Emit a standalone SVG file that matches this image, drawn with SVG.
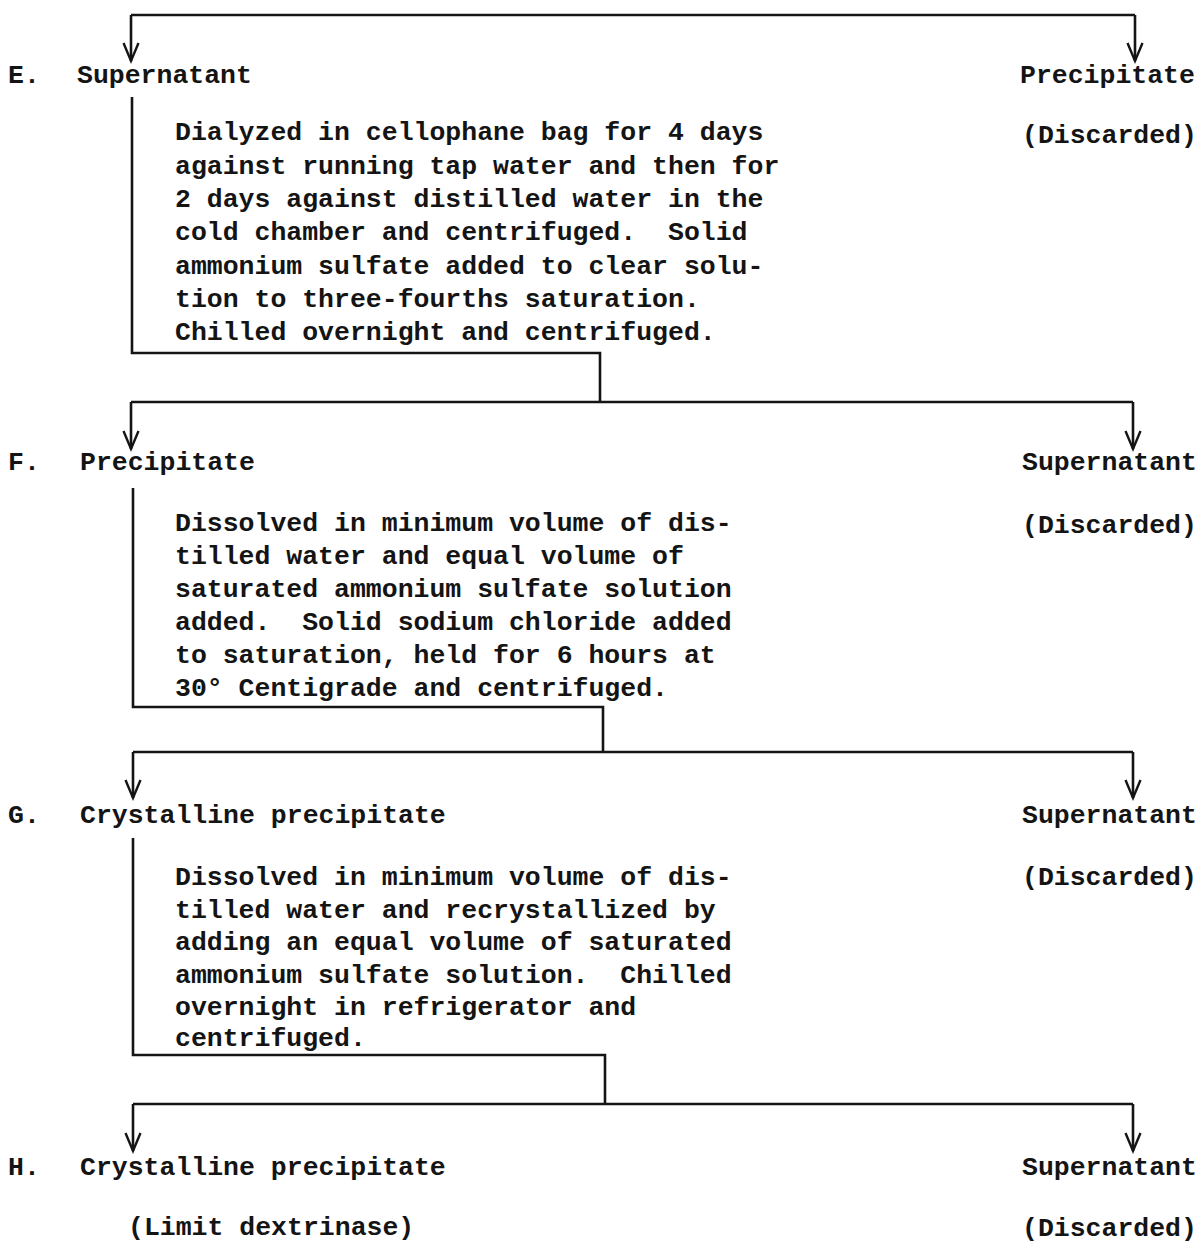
<svg xmlns="http://www.w3.org/2000/svg" width="1203" height="1243" viewBox="0 0 1203 1243">
<defs>
<style>
text{font-family:"Liberation Mono","Courier New",monospace;font-weight:bold;font-size:26.5px;fill:#141414;white-space:pre}
.c{fill:none;stroke:#141414;stroke-width:2.6;stroke-linejoin:miter}
</style>
<marker id="ah" markerUnits="userSpaceOnUse" markerWidth="20" markerHeight="20" refX="0" refY="0" orient="auto" overflow="visible">
<path d="M-18,-7.5 L0,0 L-18,7.5" fill="none" stroke="#141414" stroke-width="2.4"/>
</marker>
</defs>
<rect width="1203" height="1243" fill="#ffffff"/>
<g id="connectors">
<path class="c" d="M131,15 H1135" />
<path class="c" d="M131,15 V61" marker-end="url(#ah)"/>
<path class="c" d="M1135,15 V61" marker-end="url(#ah)"/>
<path class="c" d="M132,97 V353 H600 V402"/>
<path class="c" d="M131,402 H1133"/>
<path class="c" d="M131,402 V449" marker-end="url(#ah)"/>
<path class="c" d="M1133,402 V449" marker-end="url(#ah)"/>
<path class="c" d="M133,488 V707 H603 V752"/>
<path class="c" d="M133,752 H1133"/>
<path class="c" d="M133,752 V798" marker-end="url(#ah)"/>
<path class="c" d="M1133,752 V798" marker-end="url(#ah)"/>
<path class="c" d="M133,838 V1055 H605 V1104"/>
<path class="c" d="M133,1104 H1133"/>
<path class="c" d="M133,1104 V1151" marker-end="url(#ah)"/>
<path class="c" d="M1133,1104 V1151" marker-end="url(#ah)"/>
</g>
<g id="node-E">
<text x="8" y="83">E.</text>
<text x="77" y="83">Supernatant</text>
</g>
<g id="node-E-precipitate">
<text x="1020" y="83">Precipitate</text>
<text x="1022" y="143">(Discarded)</text>
</g>
<g id="step-E">
<text x="175" y="140">Dialyzed in cellophane bag for 4 days</text>
<text x="175" y="173.5">against running tap water and then for</text>
<text x="175" y="207">2 days against distilled water in the</text>
<text x="175" y="240" xml:space="preserve">cold chamber and centrifuged.  Solid</text>
<text x="175" y="273.5">ammonium sulfate added to clear solu-</text>
<text x="175" y="307">tion to three-fourths saturation.</text>
<text x="175" y="340">Chilled overnight and centrifuged.</text>
</g>
<g id="node-F">
<text x="8" y="470">F.</text>
<text x="80" y="470">Precipitate</text>
</g>
<g id="node-F-supernatant">
<text x="1022" y="470">Supernatant</text>
<text x="1022" y="533">(Discarded)</text>
</g>
<g id="step-F">
<text x="175" y="531">Dissolved in minimum volume of dis-</text>
<text x="175" y="564">tilled water and equal volume of</text>
<text x="175" y="597">saturated ammonium sulfate solution</text>
<text x="175" y="630" xml:space="preserve">added.  Solid sodium chloride added</text>
<text x="175" y="663">to saturation, held for 6 hours at</text>
<text x="175" y="696">30° Centigrade and centrifuged.</text>
</g>
<g id="node-G">
<text x="8" y="823">G.</text>
<text x="80" y="823">Crystalline precipitate</text>
</g>
<g id="node-G-supernatant">
<text x="1022" y="823">Supernatant</text>
<text x="1022" y="885">(Discarded)</text>
</g>
<g id="step-G">
<text x="175" y="885">Dissolved in minimum volume of dis-</text>
<text x="175" y="917.5">tilled water and recrystallized by</text>
<text x="175" y="950">adding an equal volume of saturated</text>
<text x="175" y="982.5" xml:space="preserve">ammonium sulfate solution.  Chilled</text>
<text x="175" y="1015">overnight in refrigerator and</text>
<text x="175" y="1046">centrifuged.</text>
</g>
<g id="node-H">
<text x="8" y="1175">H.</text>
<text x="80" y="1175">Crystalline precipitate</text>
<text x="128" y="1235">(Limit dextrinase)</text>
</g>
<g id="node-H-supernatant">
<text x="1022" y="1175">Supernatant</text>
<text x="1022" y="1236">(Discarded)</text>
</g>
</svg>
